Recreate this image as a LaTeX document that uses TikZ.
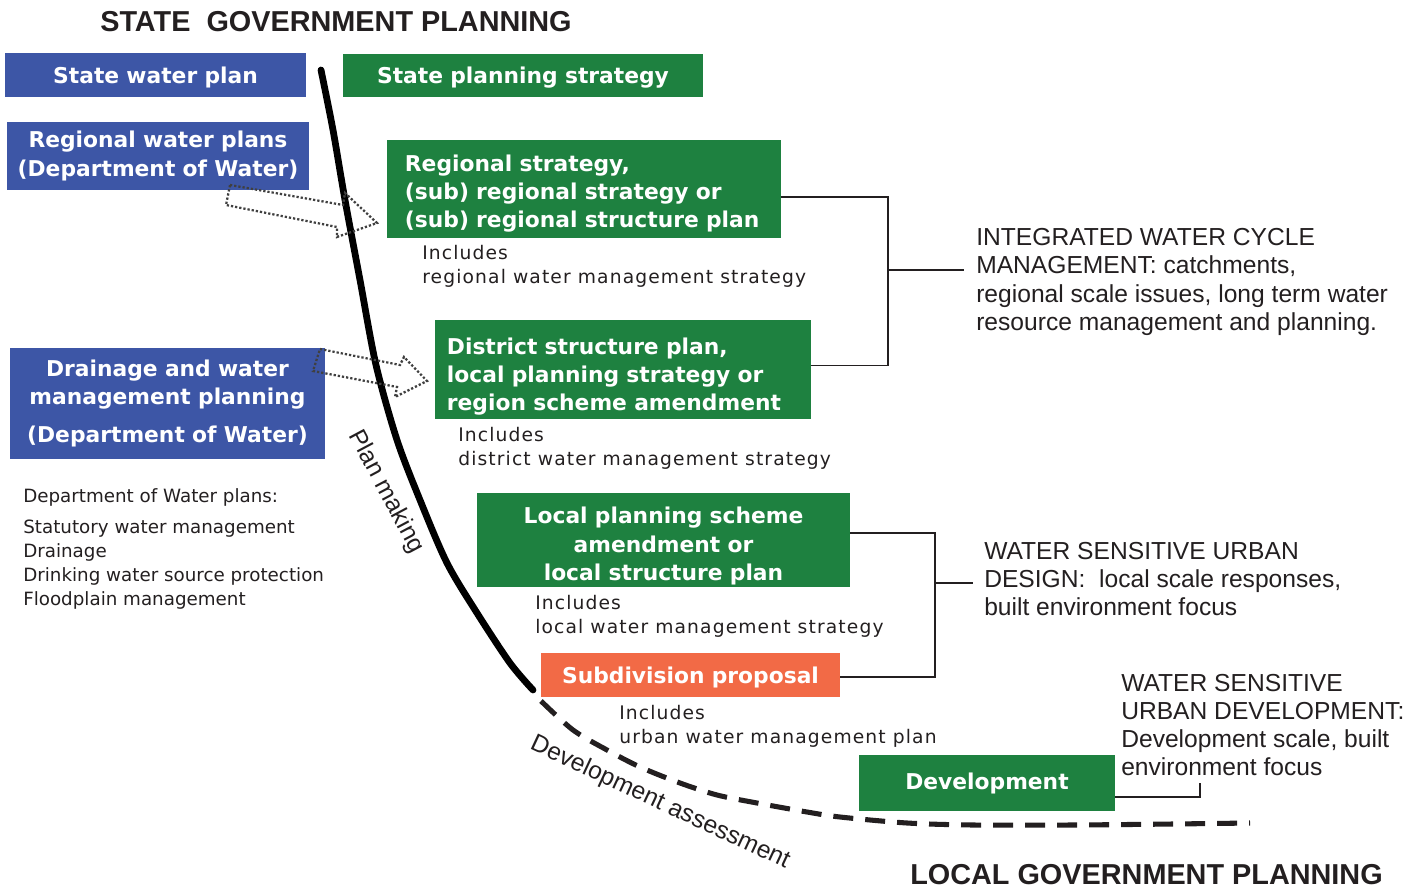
\documentclass[tikz,border=0pt]{standalone}
\usepackage{fontspec}
\usepackage{xcolor}
\usetikzlibrary{calc}
\newfontfamily\dejavu{DejaVu Sans}
\newfontfamily\dejavusp{DejaVu Sans}[LetterSpace=6]
\newfontfamily\libsans{Liberation Sans}
\definecolor{dowblue}{HTML}{3D56A6}
\definecolor{plangreen}{HTML}{1E8140}
\definecolor{suborange}{HTML}{F26A46}
\definecolor{txtgray}{HTML}{231F20}
\tikzset{
	box/.style={% coloured planning blocks
		inner sep=0pt,
		text=white,
		font=\dejavu\fontsize{15.5pt}{20pt}\selectfont\bfseries,
		align=center
	},
	incl/.style={% "Includes ..." notes under the blocks
		inner sep=0pt, anchor=west, align=left, text=txtgray,
		font=\dejavusp\fontsize{13.3pt}{17pt}\selectfont
	},
	scope/.style={% water cycle scale descriptions
		anchor=west, align=left, text=txtgray,
		font=\libsans\fontsize{17.5pt}{20pt}\selectfont
	},
	heading/.style={
		inner sep=0pt, anchor=west, text=txtgray,
		font=\libsans\fontsize{20.5pt}{24pt}\selectfont\bfseries
	},
	dotarrow/.style={
		draw=black!75, line width=1.6pt, dash pattern=on 1.6pt off 1.4pt
	}
}
\begin{document}
\begin{tikzpicture}[x=0.025cm, y=-0.025cm,
                        along/.style={
                        text=txtgray,
                        font=\libsans\fontsize{17.5pt}{20pt}\selectfont}]
                        \useasboundingbox (0,0) rectangle (1424,891);
                        \node [heading] (stateh) at (100,22) {STATE\ \ GOVERNMENT PLANNING};
                        \node [heading] (localh) at (910,875) {LOCAL GOVERNMENT PLANNING};
                        \node [box, fill=dowblue, text width=7.525cm, minimum height=1.1cm, text depth=-0.5pt] (swp) at (155.5,75) {State water plan};
                        \node [box, fill=plangreen, text width=9cm, minimum height=1.075cm, text depth=-2pt] (sps) at (523,75.5) {State planning strategy};
                        \node [box, fill=dowblue, text width=7.55cm, minimum height=1.7cm] (rwp) at (158,156) {Regional water plans\\(Department of Water)};
                        \node [box, fill=plangreen, align=left, inner xsep=0.45cm, text width=8.95cm, minimum height=2.45cm, text height=18pt] (rs) at (584,189) {Regional strategy,\\(sub) regional strategy or\\(sub) regional structure plan};
                        \node [box, fill=plangreen, align=left, inner xsep=0.3cm, text width=8.8cm, minimum height=2.475cm, text height=21.5pt] (dsp) at (623,369.5) {District structure plan,\\local planning strategy or\\region scheme amendment};
                        \node [box, fill=dowblue, text width=7.875cm, minimum height=2.775cm] (dwm) at (167.5,403.5) {Drainage and water\\management planning\\[0.25cm](Department of Water)};
                        \node [box, fill=plangreen, text width=9.325cm, minimum height=2.35cm, text height=20.4pt] (lps) at (663.5,540) {Local planning scheme\\amendment or\\local structure plan};
                        \node [box, fill=suborange, text width=7.475cm, minimum height=1.1cm, text depth=-2pt] (sub) at (690.5,675) {Subdivision proposal};
                        \node [box, fill=plangreen, text width=6.4cm, minimum height=1.4cm] (dev) at (987,783) {Development};
                        \node [incl] (incrs) at (422,266) {Includes\\regional water management strategy};
                        \node [incl] (incdsp) at (458,448.5) {Includes\\district water management strategy};
                        \node [incl] (inclps) at (535,616.5) {Includes\\local water management strategy};
                        \node [incl] (incsub) at (619,726.5) {Includes\\urban water management plan};
                        \node [inner sep=0pt, anchor=west, align=left, text=txtgray, font=\dejavu\fontsize{13pt}{17pt}\selectfont] (dow) at (23,549) {Department of Water plans:\\[0.18cm]Statutory water management\\Drainage\\Drinking water source protection\\Floodplain management};
                        \node [scope, inner xsep=0.3cm] (iwcm) at (964,282) {INTEGRATED WATER CYCLE\\MANAGEMENT: catchments,\\regional scale issues, long term water\\resource management and planning.};
                        \node [scope, inner xsep=0.275cm] (wsud) at (973,579) {WATER SENSITIVE URBAN\\DESIGN:\ \ local scale responses,\\built environment focus};
                        \node [scope, inner sep=0pt] (wsudev) at (1121,725) {WATER SENSITIVE\\URBAN DEVELOPMENT:\\Development scale, built\\environment focus};
                        \node [along, rotate=-62] (planm) at (386,492) {Plan making};
                        \node [along, rotate=-25] (deva) at (660,803) {Development assessment};
                        \coordinate (j1) at (888,270);
                        \coordinate (j2) at (935,583);
                        \coordinate (d1) at (1200,783);
                        \draw [line width=1.2pt, txtgray] ([yshift=-0.2cm]rs.east) -| (j1) |- ([yshift=0.1cm]dsp.east);
                        \draw [line width=1.2pt, txtgray] (j1) -- (j1 -| iwcm.west);
                        \draw [line width=1.2pt, txtgray] ([yshift=0.175cm]lps.east) -| (j2) |- ([yshift=-0.05cm]sub.east);
                        \draw [line width=1.2pt, txtgray] (j2) -- (j2 -| wsud.west);
                        \draw [line width=1.2pt, txtgray] ([yshift=-0.35cm]dev.east) -| (d1);
                        \draw [line width=4.8pt, line cap=round] plot [smooth] coordinates {(321,70) (333,130) (345,200) (360,280) (376,365) (397,440) (420,500) (447,563) (477,613) (510,663) (533,690)};
                        \draw [line width=3.6pt, txtgray, dash pattern=on 0.5cm off 0.3cm] plot [smooth] coordinates {(541,701) (573,730) (607,750) (640,767) (680,783) (717,795) (757,803) (807,812) (840,817) (907,823) (973,825) (1073,825) (1173,824) (1250,823)};
                        \draw [dotarrow] (230,185) -- (343,205) -- (345,193) -- (377,223) -- (337,237) -- (337,227) -- (226,205) -- cycle;
                        \draw [dotarrow] (320,349) -- (400,365) -- (404,357) -- (427,381) -- (395,397) -- (397,387) -- (313,371) -- cycle;
                \end{tikzpicture}
\end{document}
